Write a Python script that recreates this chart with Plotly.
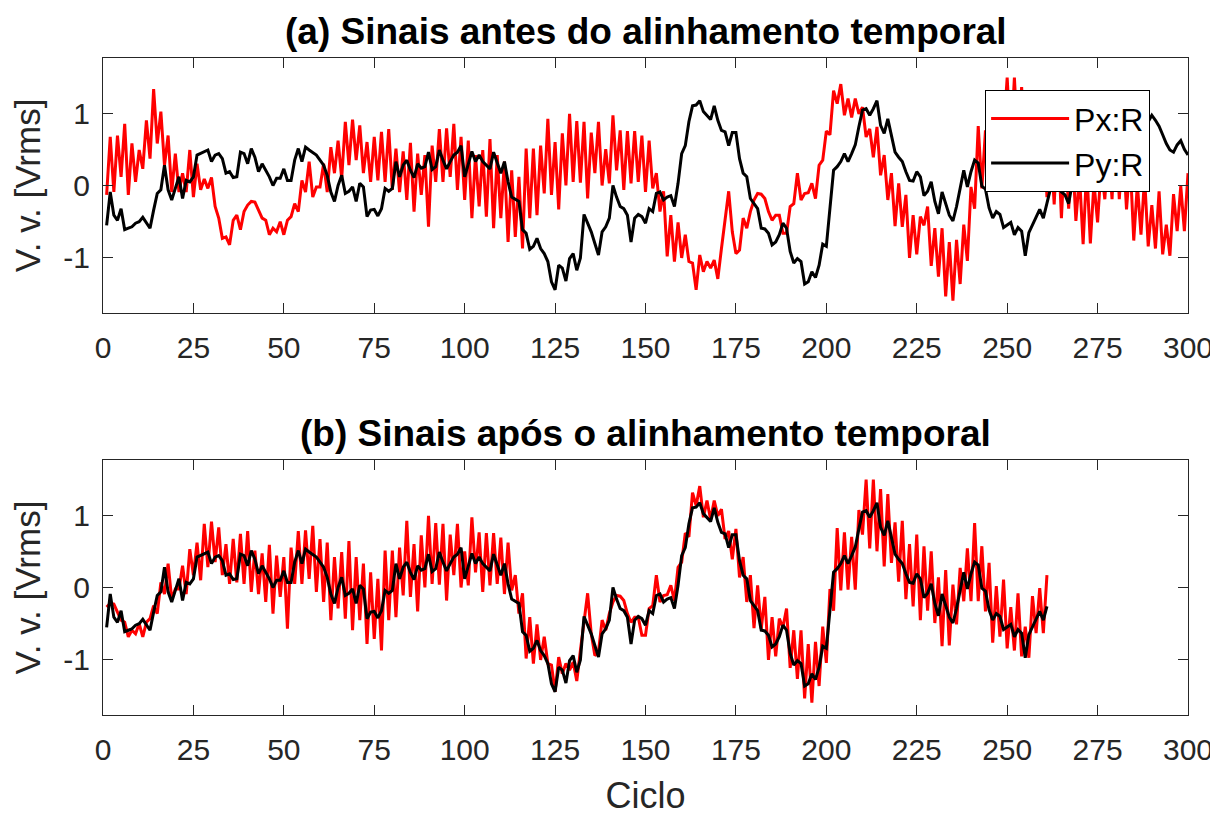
import plotly.graph_objects as go

# ── Dados ───────────────────────────────────────────────────────
px_r = [
    -0.13, 0.67, -0.09, 0.69, 0.12, 0.85, -0.13, 0.58, 0.05, 0.49,
    0.23, 0.90, 0.37, 1.33, 0.58, 1.02, 0.28, 0.69, -0.09, 0.44,
    -0.09, 0.17, -0.09, 0.49, -0.16, 0.30, -0.06, 0.09, -0.04, 0.11,
    -0.29, -0.45, -0.73, -0.71, -0.82, -0.48, -0.41, -0.61, -0.36, -0.27,
    -0.22, -0.23, -0.34, -0.45, -0.48, -0.68, -0.59, -0.64, -0.50, -0.68,
    -0.48, -0.43, -0.25, -0.36, 0.07, -0.09, 0.33, -0.16, -0.02, -0.02,
    0.30, -0.09, 0.53, 0.17, 0.62, 0.10, 0.88, 0.28, 0.91, 0.35,
    0.83, 0.17, 0.60, 0.05, 0.67, 0.07, 0.74, 0.05, 0.78, -0.06,
    0.51, -0.09, 0.47, -0.20, 0.59, -0.36, 0.44, -0.13, 0.42, -0.57,
    0.55, 0.05, 0.78, 0.05, 0.79, 0.12, 0.85, -0.06, 0.67, -0.20,
    0.62, -0.45, 0.42, -0.29, 0.49, -0.43, 0.64, -0.59, 0.42, -0.45,
    0.33, -0.78, 0.21, -0.71, 0.12, -0.87, 0.51, -0.45, 0.51, -0.41,
    0.55, -0.11, 0.92, -0.13, 0.60, -0.33, 0.72, 0.00, 0.99, 0.05,
    0.89, 0.04, 0.88, -0.18, 0.73, 0.17, 0.88, 0.00, 0.50, 0.03,
    0.97, 0.21, 0.76, -0.06, 0.75, 0.03, 0.75, 0.05, 0.69, -0.09,
    0.62, -0.04, 0.17, -0.36, -0.08, -0.98, -0.41, -1.05, -0.51, -1.00,
    -0.68, -1.05, -1.07, -1.44, -0.96, -1.19, -1.05, -1.14, -1.03, -1.29,
    -0.87, -0.45, -0.08, -0.64, -0.94, -0.89, -0.45, -0.59, -0.36, -0.20,
    -0.11, -0.12, -0.18, -0.36, -0.48, -0.41, -0.41, -0.66, -0.66, -0.29,
    -0.25, 0.17, -0.20, -0.11, -0.10, 0.03, -0.18, 0.28, 0.35, 0.75,
    0.70, 1.31, 1.13, 1.40, 0.97, 1.20, 0.94, 1.20, 0.99, 1.08,
    0.67, 0.78, 0.39, 0.81, 0.14, 0.42, -0.20, 0.17, -0.56, 0.03,
    -0.57, -0.13, -1.00, -0.41, -0.95, -0.43, -0.55, -0.29, -1.11, -0.59,
    -1.26, -0.59, -1.53, -0.78, -1.59, -0.75, -1.36, -0.54, -1.04, -0.02,
    -0.32, 0.82, -0.04, 0.76, -0.03, 0.70, -0.03, 1.07, 0.73, 1.49,
    0.54, 1.49, 0.50, 1.36, 0.29, 1.29, 0.34, 0.90, 0.08, 0.92,
    -0.16, 0.60, -0.26, 0.73, -0.45, 0.57, -0.32, 0.50, -0.49, 0.14,
    -0.81, 0.24, -0.80, 0.04, -0.51, 0.27, -0.19, 0.54, -0.19, 0.89,
    -0.19, 0.57, -0.33, 0.34, -0.76, 0.02, -0.68, 0.11, -0.84, -0.27,
    -0.87, -0.08, -0.95, -0.54, -0.97, -0.12, -0.63, -0.01, -0.63, 0.17,
]

py_r = [
    -0.55, -0.09, -0.41, -0.48, -0.32, -0.61, -0.59, -0.57, -0.52, -0.50,
    -0.44, -0.52, -0.59, -0.34, -0.11, -0.06, 0.28, -0.06, -0.20, -0.04,
    0.12, -0.18, 0.07, 0.05, 0.12, 0.42, 0.44, 0.46, 0.49, 0.33,
    0.42, 0.44, 0.37, 0.17, 0.19, 0.11, 0.12, 0.46, 0.44, 0.30,
    0.51, 0.39, 0.19, 0.30, 0.21, 0.12, 0.00, 0.10, 0.10, 0.23,
    0.07, 0.07, 0.35, 0.51, 0.33, 0.53, 0.49, 0.46, 0.42, 0.35,
    0.28, 0.14, -0.09, -0.22, 0.00, 0.14, -0.11, -0.08, -0.02, -0.22,
    0.03, -0.02, -0.43, -0.34, -0.33, -0.42, -0.32, -0.04, -0.08, -0.04,
    0.33, 0.12, 0.28, 0.35, 0.21, 0.11, 0.30, 0.24, 0.26, 0.46,
    0.22, 0.26, 0.49, 0.35, 0.23, 0.33, 0.42, 0.46, 0.55, 0.12,
    0.28, 0.47, 0.33, 0.42, 0.33, 0.28, 0.23, 0.46, 0.30, 0.17,
    0.33, 0.05, -0.16, -0.19, -0.22, -0.61, -0.66, -0.88, -0.84, -0.73,
    -0.87, -0.94, -1.05, -1.33, -1.44, -1.10, -1.14, -1.32, -1.01, -0.94,
    -1.17, -1.00, -0.40, -0.52, -0.64, -0.80, -0.96, -0.64, -0.57, -0.45,
    0.00, -0.16, -0.29, -0.32, -0.41, -0.78, -0.45, -0.40, -0.43, -0.52,
    -0.32, -0.36, -0.11, -0.09, -0.20, -0.16, -0.14, -0.29, 0.03, 0.44,
    0.55, 0.88, 1.10, 1.11, 1.17, 1.02, 0.97, 0.91, 1.10, 0.90,
    0.76, 0.74, 0.55, 0.73, 0.73, 0.37, 0.17, 0.12, -0.18, -0.25,
    -0.32, -0.59, -0.60, -0.66, -0.82, -0.78, -0.68, -0.52, -0.59, -0.91,
    -1.07, -1.01, -1.05, -1.36, -1.33, -1.19, -1.27, -1.10, -0.81, -0.84,
    -0.32, 0.21, 0.26, 0.33, 0.44, 0.33, 0.44, 0.56, 0.81, 1.04,
    1.06, 0.97, 1.06, 1.17, 0.83, 0.72, 0.92, 0.69, 0.46, 0.39,
    0.33, 0.19, 0.07, 0.06, 0.19, 0.12, -0.14, -0.08, 0.05, -0.22,
    -0.39, -0.09, -0.25, -0.41, -0.49, -0.29, -0.04, 0.21, -0.02, 0.19,
    0.35, 0.31, -0.01, -0.05, -0.31, -0.45, -0.36, -0.40, -0.58, -0.54,
    -0.51, -0.68, -0.58, -0.63, -0.97, -0.65, -0.54, -0.45, -0.33, -0.45,
    -0.26, -0.04, 0.05, 0.00, -0.09, -0.13, -0.25, 0.03, 0.12, 0.20,
    0.15, 0.30, 0.28, 0.42, 0.38, 0.55, 0.50, 0.62, 0.58, 0.70,
    0.66, 0.78, 0.72, 0.85, 0.80, 0.92, 0.86, 0.95, 0.88, 0.97,
    0.90, 0.82, 0.70, 0.58, 0.49, 0.46, 0.56, 0.62, 0.50, 0.42,
]

atraso = 39          # deslocamento de Px:R após o alinhamento
n_alinhado = 261     # amostras comuns após o alinhamento
x_ticks = [0, 25, 50, 75, 100, 125, 150, 175, 200, 225, 250, 275, 300]
y_ticks = [-1, 0, 1]
y_tick_text = ["-1", "0", "1"]

x_antes = list(range(1, len(px_r) + 1))
x_depois = list(range(1, n_alinhado + 1))
px_alinhado = px_r[atraso:atraso + n_alinhado]
py_alinhado = py_r[:n_alinhado]

FONT = "Liberation Sans, Arial, Helvetica, sans-serif"
C_AXIS = "#262626"

fig = go.Figure()

fig.add_trace(go.Scatter(x=x_antes, y=px_r, mode="lines", name="Px:R",
                         line=dict(color="#ff0000", width=3), xaxis="x", yaxis="y"))
fig.add_trace(go.Scatter(x=x_antes, y=py_r, mode="lines", name="Py:R",
                         line=dict(color="#000000", width=3), xaxis="x", yaxis="y"))
fig.add_trace(go.Scatter(x=x_depois, y=px_alinhado, mode="lines", showlegend=False,
                         line=dict(color="#ff0000", width=3), xaxis="x2", yaxis="y2"))
fig.add_trace(go.Scatter(x=x_depois, y=py_alinhado, mode="lines", showlegend=False,
                         line=dict(color="#000000", width=3), xaxis="x2", yaxis="y2"))

ax_common = dict(
    range=[0, 300], tickvals=x_ticks, ticks="inside", ticklen=10, tickcolor=C_AXIS,
    showline=True, linecolor=C_AXIS, linewidth=1, mirror="ticks", showgrid=False,
    zeroline=False, automargin=False, ticklabelstandoff=8,
    tickfont=dict(size=30, color=C_AXIS, family=FONT),
)
ay_common = dict(
    range=[-1.76, 1.76], tickvals=y_ticks, ticktext=y_tick_text, ticks="inside",
    ticklen=10, tickcolor=C_AXIS, showline=True, linecolor=C_AXIS, linewidth=1,
    mirror="ticks", showgrid=False, zeroline=False, automargin=False,
    ticklabelstandoff=6,
    tickfont=dict(size=30, color=C_AXIS, family=FONT),
    title=dict(text="V. v. [Vrms]", font=dict(size=35, color=C_AXIS, family=FONT),
               standoff=12),
)

# a página desloca o gráfico 8 px (margem do body): compensado nas margens
fig.update_layout(
    width=1210, height=808,
    margin=dict(l=95, r=30, t=50, b=101),
    paper_bgcolor="white", plot_bgcolor="white",
    font=dict(family=FONT, color=C_AXIS),
    xaxis=dict(domain=[0, 1], anchor="y", **ax_common),
    yaxis=dict(domain=[0.6119, 1], anchor="x", **ay_common),
    xaxis2=dict(domain=[0, 1], anchor="y2",
                title=dict(text="Ciclo", font=dict(size=36, color=C_AXIS, family=FONT),
                           standoff=30),
                **ax_common),
    yaxis2=dict(domain=[0, 0.3881], anchor="x2", **ay_common),
    legend=dict(
        x=0.813, y=0.951, xref="paper", yref="paper", xanchor="left", yanchor="top",
        bgcolor="white", bordercolor="#000000", borderwidth=1,
        font=dict(size=32, color="#000000", family=FONT), itemwidth=78,
        tracegroupgap=0,
    ),
    showlegend=True,
)

fig.add_annotation(text="<b>(a) Sinais antes do alinhamento temporal</b>",
                   x=0.5, y=1.041, xref="paper", yref="paper", showarrow=False,
                   xanchor="center", yanchor="middle",
                   font=dict(size=37, color="#000000", family=FONT))
fig.add_annotation(text="<b>(b) Sinais após o alinhamento temporal</b>",
                   x=0.5, y=0.429, xref="paper", yref="paper", showarrow=False,
                   xanchor="center", yanchor="middle",
                   font=dict(size=37, color="#000000", family=FONT))

fig.write_html("out.html")
